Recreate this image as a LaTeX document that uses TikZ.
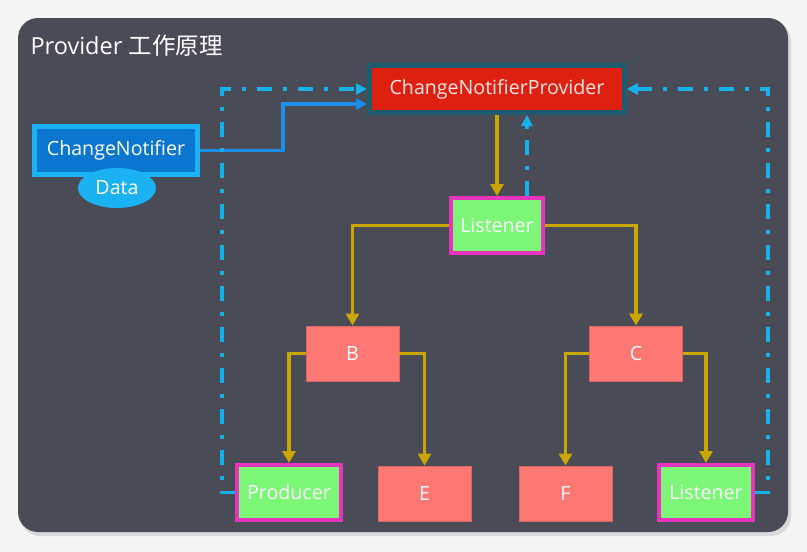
\documentclass[tikz,border=0pt]{standalone}
\usepackage{fontspec}
\setmainfont{Open Sans}
\newfontfamily\cjk{Noto Sans CJK SC}
\usetikzlibrary{arrows.meta,shapes.geometric}

\definecolor{panel}{RGB}{73,75,87}
\definecolor{gold}{RGB}{201,166,0}
\definecolor{cyanline}{RGB}{23,177,234}
\definecolor{blueline}{RGB}{26,142,232}
\definecolor{provred}{RGB}{222,32,16}
\definecolor{provteal}{RGB}{31,91,110}
\definecolor{lgreen}{RGB}{124,247,119}
\definecolor{magenta}{RGB}{229,53,189}
\definecolor{salmon}{RGB}{255,120,116}
\definecolor{cnblue}{RGB}{11,118,208}
\definecolor{cnedge}{RGB}{26,178,242}

\begin{document}
\begin{tikzpicture}[x=1pt,y=-1pt,
    every node/.style={text=white,font=\fontsize{19.6}{22}\selectfont},
    widget/.style={rectangle,fill=salmon,draw=salmon!85!black,line width=.8pt,
      minimum width=93pt,minimum height=55pt},
    listener/.style={rectangle,fill=lgreen,draw=magenta,line width=4pt,
      minimum height=55pt},
    rebuild/.style={gold,line width=3.5pt,-{Triangle[width=13pt,length=12pt]}},
    notify/.style={cyanline,line width=3.5pt,dash pattern=on 15pt off 11pt on 4pt off 11pt,
      -{Triangle[width=11pt,length=11pt]}}]
  \useasboundingbox (0,0) rectangle (807,552);
  \fill[gray!8] (0,0) rectangle (807,552);
  \fill[black!15,rounded corners=20pt] (20,21) rectangle (791,536);
  \fill[panel,rounded corners=20pt] (18,18) rectangle (788,532);
  \node[anchor=base west,font=\fontsize{23.5}{26}\selectfont] (title) at (27,54) {Provider {\cjk 工作原理}};

  % provider and the data it holds
  \node[fill=provred,draw=provteal,line width=5pt,minimum width=255pt,minimum height=47pt,
    text=red!10] (prov) at (497,89) {ChangeNotifierProvider};
  \node[fill=cnblue,draw=cnedge,line width=5pt,minimum width=163pt,minimum height=48pt]
    (cn) at (116,150.5) {ChangeNotifier};
  \node[ellipse,fill=cnedge,minimum width=78pt,minimum height=40pt,inner sep=0pt]
    (data) at (117,188) {Data};

  % widget tree
  \node[listener,minimum width=92pt] (lis) at (497,225.5) {Listener};
  \node[widget] (b) at (352.5,353.5) {B};
  \node[widget] (c) at (636,353.5) {C};
  \node[listener,minimum width=104pt] (prod) at (289,492.5) {Producer};
  \node[widget] (e) at (424.5,493.5) {E};
  \node[widget] (f) at (565.5,493.5) {F};
  \node[listener,minimum width=94pt] (lis2) at (706,492.5) {Listener};

  \draw[rebuild] (prov) -- (lis);
  \draw[rebuild] (lis.west) -| (b.north);
  \draw[rebuild] (lis.east) -| (c.north);
  \draw[rebuild] (b.west) -| (prod.north);
  \draw[rebuild] (b.east) -| (e.north);
  \draw[rebuild] (c.west) -| (f.north);
  \draw[rebuild] (c.east) -| (lis2.north);

  \draw[blueline,line width=3.5pt,-{Triangle[width=11pt,length=11pt]}]
    (cn.east) -- ++(83,0) |- ([yshift=-15pt]prov.west);
  \draw[notify] (prod.west) -- ++(-13,0) |- (prov.west);
  \draw[notify] (lis2.east) -- ++(13,0) |- (prov.east);
  \draw[notify] ([xshift=30pt]lis.north) -- ([xshift=30pt]prov.south);
\end{tikzpicture}
\end{document}
